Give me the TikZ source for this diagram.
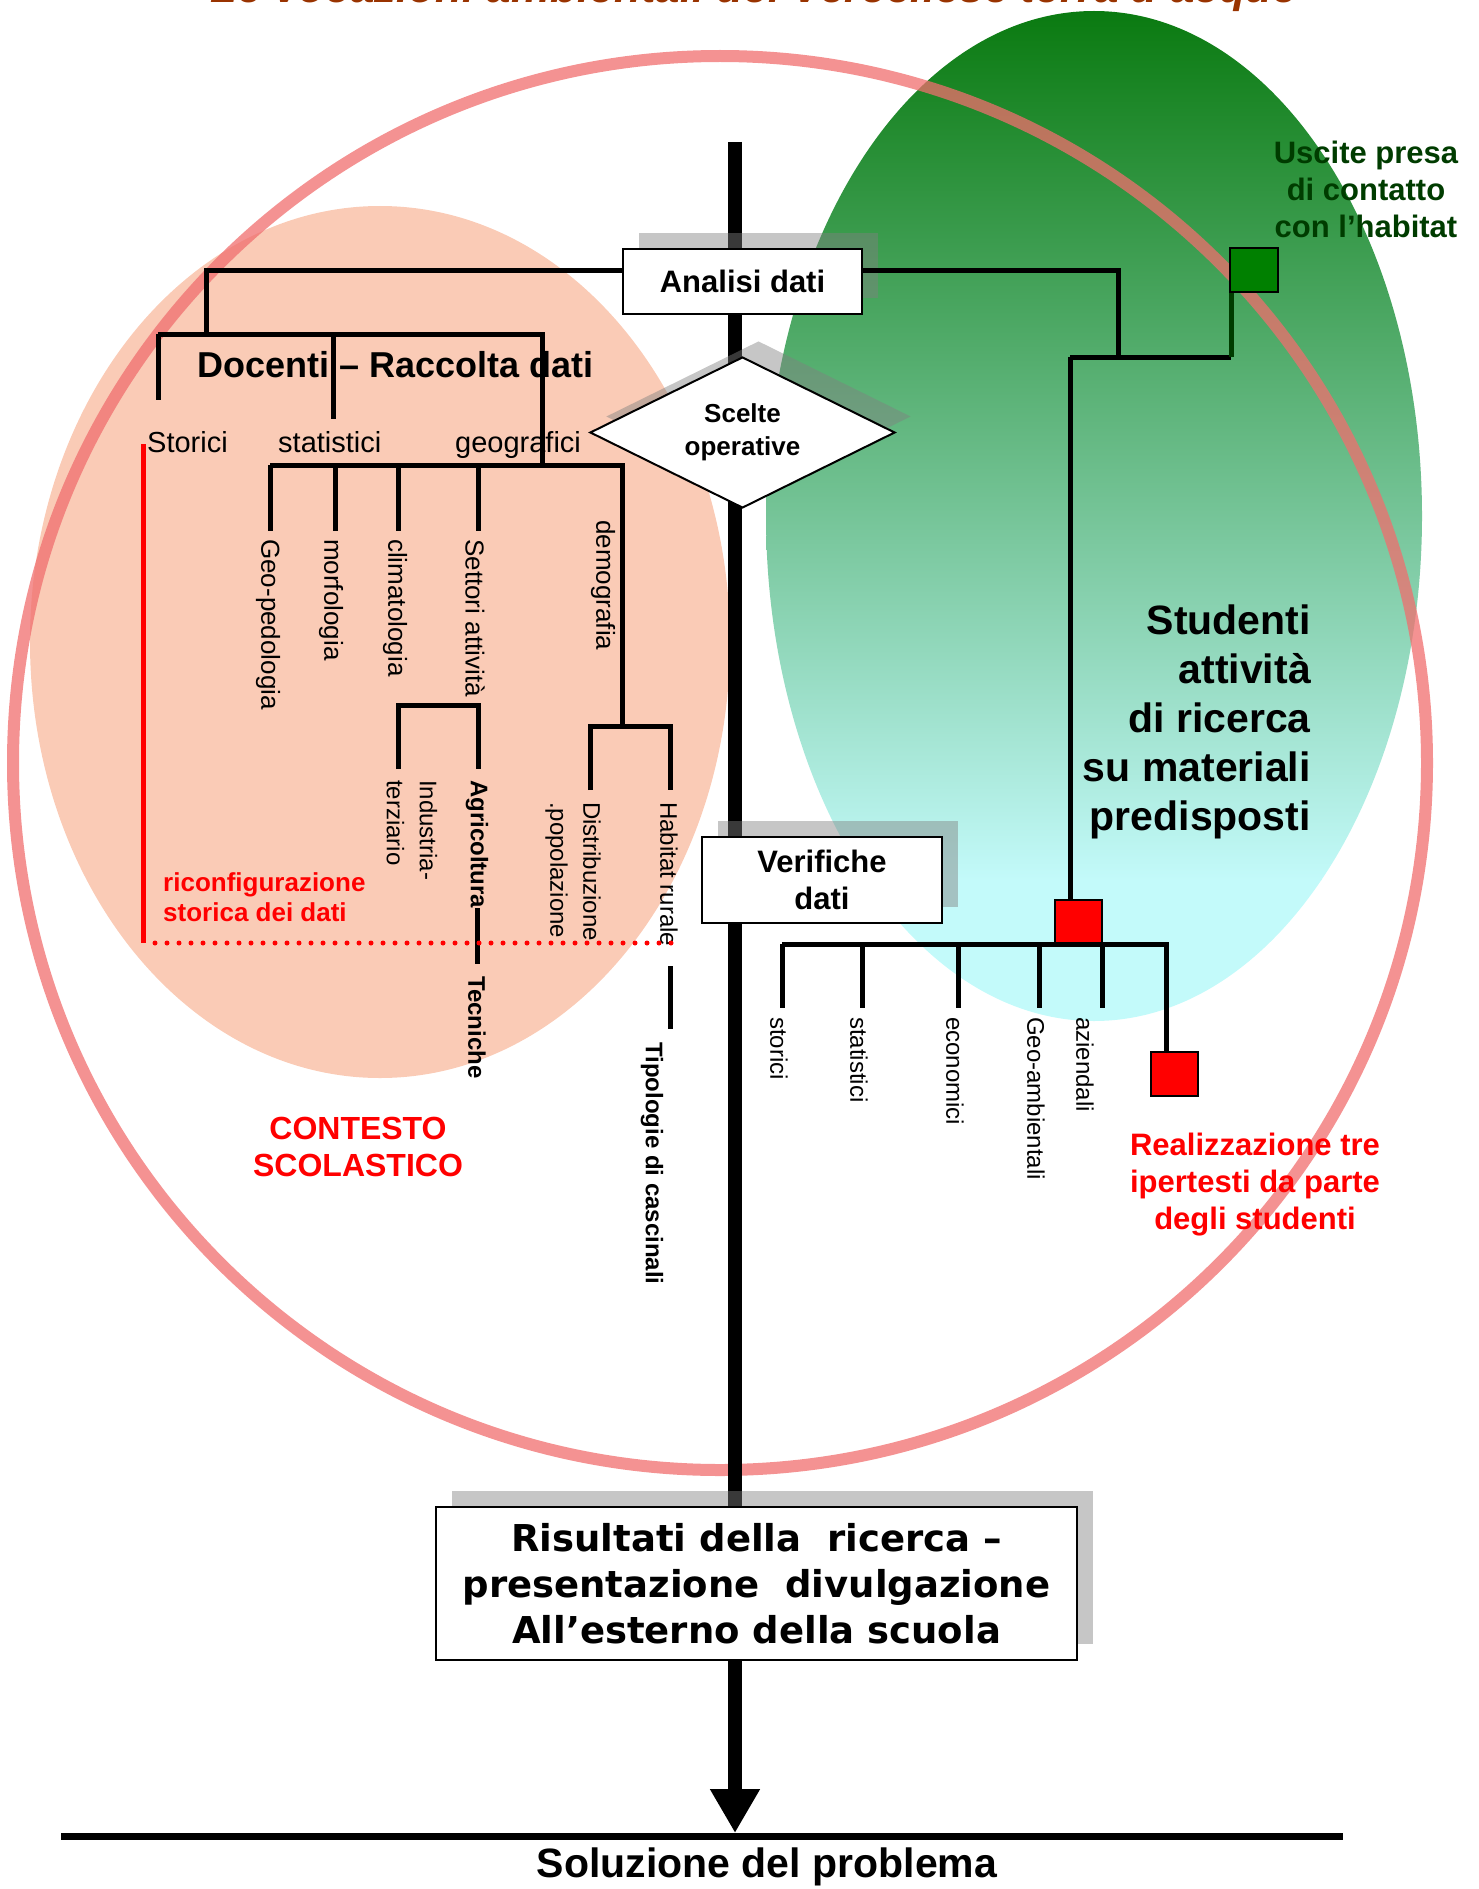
\documentclass[tikz,border=0pt]{standalone}
\usepackage{fontspec}
\setmainfont{Liberation Sans}
\newfontfamily\resfont{DejaVu Sans}
\usetikzlibrary{shapes.geometric,shadows,arrows.meta}

\definecolor{peach}{RGB}{250,203,182}
\definecolor{leafgreen}{RGB}{0,128,0}
\definecolor{darkleaf}{RGB}{0,60,0}
\definecolor{topgreen}{RGB}{10,122,16}
\definecolor{midgreen}{RGB}{105,175,140}
\definecolor{palecyan}{RGB}{195,250,250}
\definecolor{titlebrown}{RGB}{153,51,0}
\definecolor{ringred}{RGB}{240,110,110}

\tikzset{
  boxshadow/.style={drop shadow={shadow xshift=16pt,shadow yshift=16pt,fill=black!50,opacity=0.45}},
  databox/.style={draw,line width=2pt,fill=white,align=center,boxshadow,
    font=\bfseries\fontsize{31}{37}\selectfont},
  branch/.style={line width=5pt},
  txt/.style={inner sep=0pt},
  leaf/.style={rotate=-90,anchor=west,inner sep=0pt,font=\fontsize{26}{30}\selectfont},
  smallleaf/.style={font=\fontsize{24}{33}\selectfont},
  boldleaf/.style={font=\bfseries\fontsize{24}{30}\selectfont},
  flagbox/.style={draw,line width=2pt,inner sep=0pt,minimum width=48pt,minimum height=44pt}
}

\begin{document}
\begin{tikzpicture}[x=1pt,y=-1pt]
\useasboundingbox (0,0) rectangle (1478,1889);

% title, cut by the top edge
\node[txt,anchor=base,text=titlebrown,font=\bfseries\itshape\fontsize{44}{48}\selectfont] (title) at (754,3)
  {Le vocazioni ambientali del Vercellese terra d’acque};

% backgrounds
\fill[peach] (380,642) ellipse [x radius=350pt, y radius=436pt];
\begin{scope}
  \clip (1094,516) ellipse [x radius=328pt, y radius=505pt];
  \shade[top color=topgreen, middle color=midgreen, bottom color=palecyan] (760,10) rectangle (1430,880);
  \fill[palecyan] (760,879) rectangle (1430,1030);
\end{scope}
\draw[ringred, opacity=0.75, line width=12pt] (720,763) circle [radius=707pt];

% main axis
\coordinate (axtop) at (735,142);
\coordinate (axend) at (735,1833);
\draw[line width=14pt, -{Triangle[length=44pt,width=47pt]}] (axtop) -- (axend);
\coordinate (solL) at (61,1836);
\coordinate (solR) at (1343,1836);
\draw[line width=7pt] (solL) -- (solR);
\node[txt,anchor=base,font=\bfseries\fontsize{41}{44}\selectfont] (soluzione) at (767,1877) {Soluzione del problema};

% boxes
\node[databox, minimum width=239pt, minimum height=65pt] (analisi) at (742.5,281.5) {Analisi dati};
\node[diamond, aspect=2, draw, line width=2pt, fill=white, boxshadow, inner sep=0pt,
  minimum width=305pt, minimum height=151pt, align=center,
  font=\bfseries\fontsize{26}{33}\selectfont] (scelte) at (742.5,432.5) {Scelte\\operative};
\node[databox, minimum width=240pt, minimum height=86pt] (verifiche) at (822,880) {Verifiche\\dati};
\node[databox, minimum width=641pt, minimum height=153pt,
  font=\resfont\bfseries\fontsize{37}{46}\selectfont] (risultati) at (756.5,1583.5)
  {Risultati della\ \ ricerca –\\presentazione\ \ divulgazione\\All’esterno della scuola};

% docenti tree
\coordinate (docknee) at (206,334);
\coordinate (docL) at (158,334);
\coordinate (docR) at (542,334);
\coordinate (geoL) at (270,465);
\coordinate (geoR) at (622,465);
\node[txt,anchor=base west,font=\bfseries\fontsize{36}{40}\selectfont] (docenti) at (197,377) {Docenti – Raccolta dati};
\draw[branch] ([yshift=11.5pt]analisi.west) -| (docknee);
\draw[branch] (docL) -- (docR) -- (docR |- geoL);
\draw[branch] (docL) -- (158,400);
\draw[branch] (333,334) -- (333,419);
\draw[branch] (geoL) -- (geoR) -- (622,726);

\node[txt,anchor=base west,font=\fontsize{29}{32}\selectfont] (storici) at (147,452) {Storici};
\node[txt,anchor=base west,font=\fontsize{29}{32}\selectfont] (statistici) at (278,452) {statistici};
\node[txt,anchor=base west,font=\fontsize{29}{32}\selectfont] (geografici) at (455,452) {geografici};

\foreach \xx/\tx/\nm/\lbl in {270/268/geoped/Geo-pedologia, 335/331/morfo/morfologia,
    398/395/clima/climatologia, 478/475/settori/Settori attività}{
  \draw[branch] (\xx,465) -- (\xx,531);
  \node[leaf] (\nm) at (\tx,539) {\lbl};
}
\node[leaf] (demo) at (603,520) {demografia};

% sub branches
\draw[branch] (398,769) |- (478,705) -- (478,769);
\node[leaf,smallleaf,align=left] (indter) at (412,780) {Industria-\\terziario};
\node[leaf,boldleaf] (agri) at (477,780) {Agricoltura};
\node[leaf,boldleaf] (tecniche) at (477,976) {Tecniche};
\draw[branch, shorten >=12pt] (agri.east) -- (tecniche.west);

\draw[branch] (590,790) |- (670,726) -- (670,790);
\node[leaf,smallleaf,align=left] (distrib) at (573,802) {Distribuzione\\.popolazione};
\node[leaf,smallleaf] (habitat) at (669,802) {Habitat rurale};
\node[leaf,boldleaf] (tipologie) at (652,1042) {Tipologie di cascinali};
\draw[branch] (670,966) -- (670,1029);

% historical reconfiguration
\coordinate (stortop) at (143,444);
\coordinate (storbot) at (143,943);
\coordinate (dotend) at (671,943);
\draw[red, line width=5pt] (stortop) -- (storbot);
\draw[red, line width=5pt, line cap=round, dash pattern=on 0pt off 12pt] ([xshift=12pt]storbot) -- (dotend);
\node[txt,anchor=north west,align=left,text=red,font=\bfseries\fontsize{26}{30}\selectfont] (riconf) at (163,872)
  {riconfigurazione\\storica dei dati};
\node[txt,anchor=north,align=center,text=red,font=\bfseries\fontsize{32}{37}\selectfont] (contesto) at (358,1117)
  {CONTESTO\\SCOLASTICO};

% students tree
\node[flagbox, fill=leafgreen] (uscitebox) at (1254,270) {};
\node[flagbox, fill=red, minimum width=47pt, minimum height=43pt] (redA) at (1078,921.5) {};
\node[flagbox, fill=red, minimum width=47pt] (redB) at (1174.5,1074) {};
\coordinate (rknee) at (1118,357);
\coordinate (rbarL) at (1070,357);
\coordinate (rbarR) at (1231,357);
\draw[branch] ([yshift=11.5pt]analisi.east) -| (rknee);
\draw[branch] (rbarL) -- (rbarR);
\draw[branch, darkleaf] (rbarR) -- (rbarR |- uscitebox.south);
\draw[branch] (rbarL) -- (rbarL |- redA.north);
\coordinate (vbarL) at (782,944);
\coordinate (vbarR) at (1166,944);
\draw[branch] (vbarL) -- (vbarR) -- (vbarR |- redB.north);
\foreach \xx/\tx/\nm/\lbl in {782/779/vstor/storici, 862/859/vstat/statistici, 958/955/vecon/economici,
    1039/1036/vgeo/Geo-ambientali, 1102/1085/vaz/aziendali}{
  \draw[branch] (\xx,944) -- (\xx,1008);
  \node[leaf,smallleaf] (\nm) at (\tx,1017) {\lbl};
}

\node[txt,anchor=north,align=center,text=darkleaf,font=\bfseries\fontsize{31}{37}\selectfont] (uscite) at (1366,141)
  {Uscite presa\\di contatto\\con l’habitat};
\node[txt,anchor=north east,align=right,font=\bfseries\fontsize{41}{49}\selectfont] (studenti) at (1311,605)
  {Studenti\\attività\\di ricerca\\su materiali\\predisposti};
\node[txt,anchor=north,align=center,text=red,font=\bfseries\fontsize{31}{37}\selectfont] (ipertesti) at (1255,1133)
  {Realizzazione tre\\ipertesti da parte\\degli studenti};
\end{tikzpicture}
\end{document}
